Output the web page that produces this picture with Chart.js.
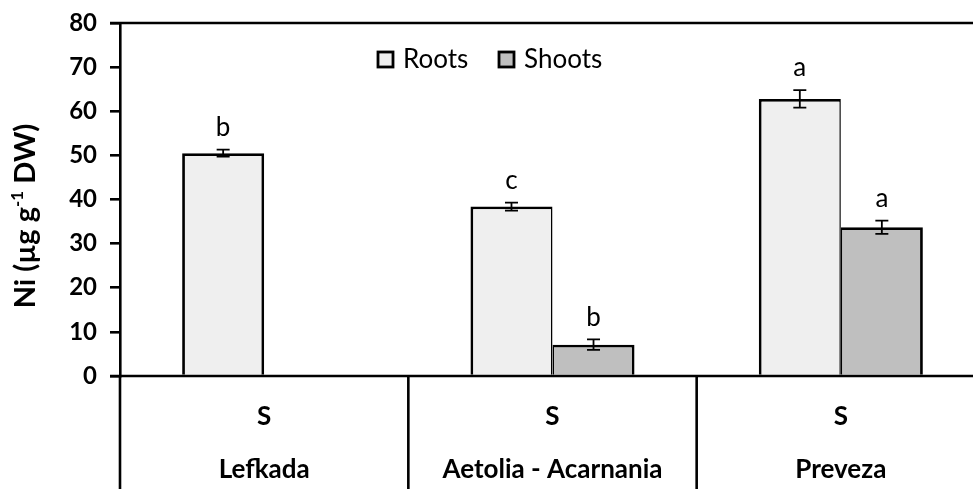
<!DOCTYPE html>
<html><head><meta charset="utf-8">
<script src="https://cdn.jsdelivr.net/npm/chart.js@4/dist/chart.umd.min.js"></script>
<style>html,body{margin:0;padding:0;background:#fff;overflow:hidden}#wrap{width:973px;height:489px;position:relative;overflow:hidden}</style>
</head><body><div id="wrap"><canvas id="c" width="985" height="489"></canvas></div>
<script>
// ---- data ----
const regions = ['Lefkada', 'Aetolia - Acarnania', 'Preveza'];
const soilTypes = ['S', 'S', 'S'];
const rootsValues = [50.5, 38.4, 62.8];
const rootsErrors = [0.8, 0.9, 2.0];
const rootsLetters = ['b', 'c', 'a'];
const shootsValues = [null, 7.1, 33.7];
const shootsErrors = [null, 1.2, 1.5];
const shootsLetters = [null, 'b', 'a'];
const yTicks = [0, 10, 20, 30, 40, 50, 60, 70, 80];
const seriesNames = ['Roots', 'Shoots'];
const yTitleParts = ['Ni (µg g', '-1', ' DW)'];

const FONT = 'Lato';
const errs = [rootsErrors, shootsErrors];
const letters = [rootsLetters, shootsLetters];
const fills = ['#efefef', '#bfbfbf'];

const decor = {
  id: 'decor',
  afterDatasetsDraw(chart) {
    const ctx = chart.ctx, ca = chart.chartArea;
    const x = chart.scales.x, y = chart.scales.y;
    ctx.save();
    // error bars + letters
    chart.data.datasets.forEach((ds, di) => {
      const meta = chart.getDatasetMeta(di);
      meta.data.forEach((bar, i) => {
        const v = ds.data[i];
        if (v === null || v === undefined) return;
        const e = errs[di][i];
        const yt = y.getPixelForValue(v + e), yb = y.getPixelForValue(v - e);
        ctx.strokeStyle = '#000'; ctx.lineWidth = 1.8;
        ctx.beginPath();
        ctx.moveTo(bar.x, yt); ctx.lineTo(bar.x, yb);
        ctx.moveTo(bar.x - 6.5, yt); ctx.lineTo(bar.x + 6.5, yt);
        ctx.moveTo(bar.x - 6.5, yb); ctx.lineTo(bar.x + 6.5, yb);
        ctx.stroke();
        const L = letters[di][i];
        if (L) {
          ctx.fillStyle = '#000';
          ctx.font = '26px ' + FONT;
          ctx.textAlign = 'center'; ctx.textBaseline = 'middle';
          ctx.fillText(L, bar.x, yt - 22);
        }
      });
    });
    // frame top line and baseline
    const y0 = y.getPixelForValue(0);
    ctx.strokeStyle = '#000'; ctx.lineWidth = 2.6;
    ctx.beginPath();
    ctx.moveTo(ca.left - 10, ca.top); ctx.lineTo(chart.width, ca.top);
    ctx.moveTo(ca.left - 10, y0); ctx.lineTo(chart.width, y0);
    // table verticals
    ctx.moveTo(ca.left, y0); ctx.lineTo(ca.left, chart.height);
    for (let i = 0; i < regions.length - 1; i++) {
      const bx = (x.getPixelForValue(i) + x.getPixelForValue(i + 1)) / 2;
      ctx.moveTo(bx, y0); ctx.lineTo(bx, chart.height);
    }
    ctx.stroke();
    // table texts
    ctx.fillStyle = '#000';
    ctx.font = 'bold 26px ' + FONT;
    ctx.textAlign = 'center'; ctx.textBaseline = 'middle';
    regions.forEach((r, i) => {
      const cx = x.getPixelForValue(i);
      ctx.fillText(soilTypes[i], cx, 417);
      ctx.fillText(r, cx, 470);
    });
    // legend
    const legendX = [378, 499];
    seriesNames.forEach((n, i) => {
      const lx = legendX[i];
      ctx.fillStyle = fills[i];
      ctx.fillRect(lx, 52, 15, 15);
      ctx.lineWidth = 2.8; ctx.strokeStyle = '#000';
      ctx.strokeRect(lx, 52, 15, 15);
      ctx.fillStyle = '#000';
      ctx.font = '26px ' + FONT;
      ctx.textAlign = 'left'; ctx.textBaseline = 'middle';
      ctx.fillText(n, lx + 25, 60);
    });
    // y title with superscript
    ctx.translate(24, 216);
    ctx.rotate(-Math.PI / 2);
    const big = 'bold 29px ' + FONT, small = 'bold 17px ' + FONT;
    ctx.font = big; const w1 = ctx.measureText(yTitleParts[0]).width;
    ctx.font = small; const w2 = ctx.measureText(yTitleParts[1]).width;
    ctx.font = big; const w3 = ctx.measureText(yTitleParts[2]).width;
    let sx = -(w1 + w2 + w3) / 2;
    ctx.textAlign = 'left'; ctx.textBaseline = 'alphabetic';
    ctx.font = big; ctx.fillText(yTitleParts[0], sx, 11); sx += w1;
    ctx.font = small; ctx.fillText(yTitleParts[1], sx, -1); sx += w2;
    ctx.font = big; ctx.fillText(yTitleParts[2], sx, 11);
    ctx.restore();
  }
};

new Chart(document.getElementById('c'), {
  type: 'bar',
  data: {
    labels: regions,
    datasets: [
      { label: seriesNames[0], data: rootsValues, backgroundColor: fills[0], borderColor: '#000',
        borderWidth: ctx => ({ top: 2.8, left: 2.8, bottom: 0, right: (shootsValues[ctx.dataIndex] == null ? 2.8 : 1.5) }),
        borderSkipped: false },
      { label: seriesNames[1], data: shootsValues, backgroundColor: fills[1], borderColor: '#000',
        borderWidth: { top: 2.8, left: 1.5, bottom: 0, right: 2.8 }, borderSkipped: false }
    ]
  },
  options: {
    responsive: false,
    animation: false,
    devicePixelRatio: 1,
    layout: { padding: { left: 0, top: 23, right: 0, bottom: 113 } },
    datasets: { bar: { categoryPercentage: 0.569, barPercentage: 1 } },
    plugins: { legend: { display: false }, tooltip: { enabled: false } },
    scales: {
      x: { display: false },
      y: {
        min: 0, max: 80,
        afterBuildTicks: s => { s.ticks = yTicks.map(v => ({ value: v })); },
        afterFit: s => { s.width = 120; s.paddingTop = 0; s.paddingBottom = 0; },
        ticks: { color: '#000', padding: 13, font: { family: FONT, size: 24, weight: 'bold' } },
        grid: { drawOnChartArea: false, tickLength: 10, color: '#000', lineWidth: 2.6 },
        border: { color: '#000', width: 2.6 }
      }
    }
  },
  plugins: [decor]
});
</script>
</body></html>
